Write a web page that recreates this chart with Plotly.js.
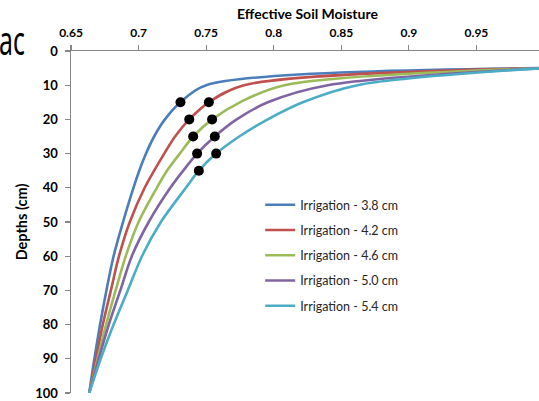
<!DOCTYPE html>
<html>
<head>
<meta charset="utf-8">
<script src="https://cdn.plot.ly/plotly-3.0.1.min.js"></script>
<style>
  html, body { margin: 0; padding: 0; overflow: hidden; background: #fff; }
  #wrap { position: relative; }
  /* fragment of slide text cut off at the left edge */
  #frag {
    position: absolute; left: -1px; top: 20px;
    font: 40px "Noto Sans", sans-serif; color: #000;
    transform: scaleX(0.62); transform-origin: left top;
    line-height: 1; z-index: 5;
  }
</style>
</head>
<body>
<div id="wrap">
  <div id="chart"></div>
  <div id="frag">ac</div>
</div>
<script>
// depths (cm) at which every curve is sampled
const depths = [5, 10, 15, 20, 25, 30, 35, 40, 50, 60, 70, 80, 90, 100];

// effective soil moisture for each irrigation amount
const irr38 = [1.0, 0.750, 0.731, 0.7195, 0.7115, 0.7055, 0.7005, 0.6962, 0.6885, 0.6815, 0.6762, 0.6715, 0.6673, 0.6635];
const irr42 = [1.0, 0.778, 0.752, 0.7375, 0.727, 0.719, 0.7115, 0.7045, 0.6935, 0.6855, 0.6795, 0.6735, 0.6685, 0.6635];
const irr46 = [1.0, 0.808, 0.775, 0.7544, 0.7404, 0.7305, 0.721, 0.7135, 0.7, 0.6905, 0.683, 0.676, 0.6697, 0.6635];
const irr50 = [1.0, 0.840, 0.7956, 0.7726, 0.7564, 0.7433, 0.733, 0.7235, 0.7075, 0.695, 0.6865, 0.678, 0.6705, 0.6635];
const irr54 = [1.0, 0.862, 0.8215, 0.7956, 0.7745, 0.7574, 0.7446, 0.735, 0.7165, 0.7025, 0.692, 0.6815, 0.672, 0.6635];

const seriesNames = ['Irrigation - 3.8 cm', 'Irrigation - 4.2 cm', 'Irrigation - 4.6 cm',
                     'Irrigation - 5.0 cm', 'Irrigation - 5.4 cm'];
const seriesColors = ['#4a7ebb', '#c0504d', '#9bbb59', '#8064a2', '#4bacc6'];

// black marker points sitting on the curves
const dotX = [0.731, 0.752, 0.7375, 0.7544, 0.7404, 0.7564, 0.7433, 0.7574, 0.7446];
const dotY = [15, 15, 20, 20, 25, 25, 30, 30, 35];

const xTicks = [0.65, 0.7, 0.75, 0.8, 0.85, 0.9, 0.95];
const yTicks = [0, 10, 20, 30, 40, 50, 60, 70, 80, 90, 100];

const FONT = 'Lato, "Open Sans", sans-serif';
const AXIS_GREY = '#868686';

const traces = [irr38, irr42, irr46, irr50, irr54].map((xs, i) => ({
  x: xs,
  y: depths,
  type: 'scatter',
  mode: 'lines',
  name: seriesNames[i],
  legendgroup: 'g' + i,
  line: { color: seriesColors[i], width: 2.6, shape: 'spline', smoothing: 0.9 },
  hoverinfo: 'skip'
}));

traces.push({
  x: dotX,
  y: dotY,
  type: 'scatter',
  mode: 'markers',
  showlegend: false,
  marker: { color: '#000', size: 10 },
  hoverinfo: 'skip'
});

const layout = {
  width: 560,
  height: 401,
  margin: { l: 71, r: 16, t: 51, b: 8 },
  paper_bgcolor: '#fff',
  plot_bgcolor: '#fff',
  font: { family: FONT, color: '#000' },
  showlegend: true,
  legend: {
    x: 0.40, y: 0.593, xanchor: 'left', yanchor: 'top',
    bgcolor: 'rgba(0,0,0,0)',
    font: { family: FONT, size: 12.5, color: '#262626' },
    traceorder: 'grouped',
    tracegroupgap: 6,
    itemwidth: 30
  },
  xaxis: {
    side: 'top',
    range: [0.65, 1.0],
    tickvals: xTicks,
    ticktext: xTicks.map(v => String(v)),
    ticks: 'outside',
    ticklen: 5,
    tickwidth: 1.2,
    tickcolor: AXIS_GREY,
    ticklabelstandoff: 3,
    showline: true,
    linecolor: AXIS_GREY,
    linewidth: 1.5,
    showgrid: false,
    zeroline: false,
    tickfont: { family: FONT, size: 12, weight: 'bold' },
    title: { text: '<b>Effective Soil Moisture</b>', font: { family: FONT, size: 14 }, standoff: 2 }
  },
  yaxis: {
    range: [100, 0],
    tickvals: yTicks,
    ticks: 'outside',
    ticklen: 5,
    tickwidth: 1.2,
    tickcolor: AXIS_GREY,
    ticklabelstandoff: 4,
    ticklabeloverflow: 'allow',
    showline: true,
    linecolor: AXIS_GREY,
    linewidth: 1.5,
    showgrid: false,
    zeroline: false,
    tickfont: { family: FONT, size: 13, weight: 'bold' },
    title: { text: '<b>Depths (cm)</b>', font: { family: FONT, size: 14.5 }, standoff: 4 }
  }
};

Plotly.newPlot('chart', traces, layout, { displayModeBar: false, staticPlot: true });
</script>
</body>
</html>
